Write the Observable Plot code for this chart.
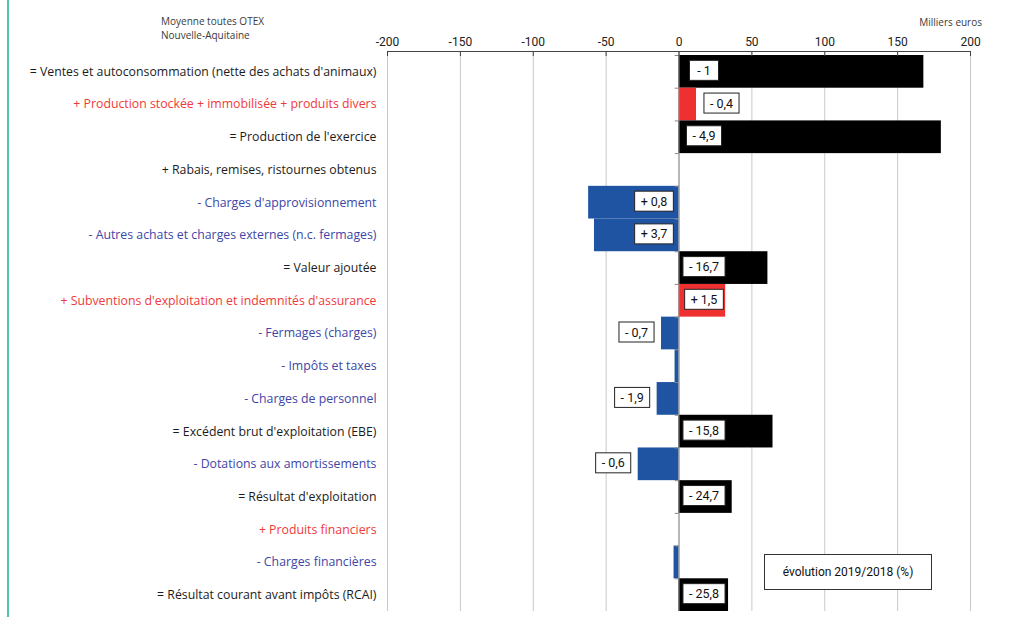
<!DOCTYPE html>
<html>
<head>
<meta charset="utf-8">
<script src="https://cdn.jsdelivr.net/npm/d3@7"></script>
<script src="https://cdn.jsdelivr.net/npm/@observablehq/plot@0.6"></script>
<style>
  html, body { margin: 0; padding: 0; background: #fff; }
  #wrap { position: relative; width: 1015px; height: 617px; overflow: hidden; font-family: "Open Sans", sans-serif; }
  #edge { position: absolute; left: 7px; top: 0; width: 2px; height: 617px; background: #4fc4aa; }
  #note { position: absolute; left: 161px; top: 14px; font-size: 10px; line-height: 14px; color: #3a3a3a; }
  #unit { position: absolute; right: 33px; top: 15px; font-size: 10px; color: #3a3a3a; }
  #legend { position: absolute; left: 764px; top: 554px; width: 166px; height: 34px; border: 1px solid #333;
            font-family: Roboto, sans-serif; font-size: 12px; line-height: 34px; text-align: center; color: #111; background: #fff; }
  #chart svg { display: block; }
</style>
</head>
<body>
<div id="wrap">
  <div id="edge"></div>
  <div id="chart"></div>
  <div id="note">Moyenne toutes OTEX<br>Nouvelle-Aquitaine</div>
  <div id="unit">Milliers euros</div>
  <div id="legend">évolution 2019/2018 (%)</div>
</div>
<script>
// Soldes intermédiaires de gestion, en milliers d'euros
const labels = [
  "= Ventes et autoconsommation (nette des achats d'animaux)",
  "+ Production stockée + immobilisée + produits divers",
  "= Production de l'exercice",
  "+ Rabais, remises, ristournes obtenus",
  "- Charges d'approvisionnement",
  "- Autres achats et charges externes (n.c. fermages)",
  "= Valeur ajoutée",
  "+ Subventions d'exploitation et indemnités d'assurance",
  "- Fermages (charges)",
  "- Impôts et taxes",
  "- Charges de personnel",
  "= Excédent brut d'exploitation (EBE)",
  "- Dotations aux amortissements",
  "= Résultat d'exploitation",
  "+ Produits financiers",
  "- Charges financières",
  "= Résultat courant avant impôts (RCAI)"
];
const kinds = [
  "solde", "produit", "solde", "autre", "charge", "charge", "solde", "produit", "charge",
  "charge", "charge", "solde", "charge", "solde", "produit", "charge", "solde"
];
const values = [168, 12, 180, 0, -62, -58, 61, 32, -12, -2.7, -15, 64.5, -28, 36.5, 0, -3.4, 34];
// évolution 2019/2018 (%)
const evolution = [-1, -0.4, -4.9, null, 0.8, 3.7, -16.7, 1.5, -0.7, null, -1.9, -15.8, -0.6, -24.7, null, null, -25.8];
const xTicks = [-200, -150, -100, -50, 0, 50, 100, 150, 200];

const barColor = { solde: "#000000", produit: "#ee3030", charge: "#1f54a3", autre: "#000000" };
const textColor = { solde: "#1c1c1c", produit: "#f03a3a", charge: "#4046a6", autre: "#1c1c1c" };

const rows = labels.map((label, i) => ({ label, kind: kinds[i], value: values[i], evol: evolution[i] }));
const fmt = v => (v > 0 ? "+ " : "- ") + String(Math.abs(v)).replace(".", ",");

const W = 1015, H = 617, mT = 51, mB = 6, mL = 387, mR = 45, yInset = 4;
const bw = (H - mT - mB - yInset) / labels.length;
const inside = d => Math.abs(d.value) >= 30;
const evolRows = rows.filter(d => d.evol != null);

const plot = Plot.plot({
  width: W,
  height: H,
  marginTop: mT,
  marginBottom: mB,
  marginLeft: mL,
  marginRight: mR,
  style: { fontFamily: "Roboto, sans-serif", fontSize: "12px", color: "#222", background: "transparent" },
  color: { type: "identity" },
  x: { domain: [-200, 200], ticks: xTicks, label: null },
  y: { domain: labels, padding: 0, round: false, insetTop: yInset, axis: null, label: null },
  marks: [
    Plot.gridX(xTicks, { stroke: "#c9c9c9", strokeOpacity: 1 }),
    Plot.barX(rows, { x: "value", y: "label", fill: d => barColor[d.kind] }),
    Plot.ruleX([0], { stroke: "#8a8a8a" }),
    // small category ticks on the zero line, at each band boundary
    Plot.ruleY(labels, { y: d => d, x1: -2.6, x2: 0, dy: -bw / 2, stroke: "#8a8a8a" }),
    // axis line along the top of the plot area
    Plot.ruleY([labels[0]], { y: d => d, dy: -(bw / 2 + yInset), stroke: "#444" }),
    Plot.tickX(xTicks, { x: d => d, stroke: "#444", insetBottom: H - mT - mB - 5 }),
    Plot.axisX(xTicks, { anchor: "top", tickSize: 0, tickPadding: 6, fontSize: 12, tickFormat: d => String(d) }),
    Plot.text(rows, {
      y: "label", text: "label", frameAnchor: "left", textAnchor: "end", dx: -11,
      fill: d => textColor[d.kind], fontFamily: "Open Sans, sans-serif", fontSize: 12.3
    }),
    Plot.text(evolRows, {
      x: d => inside(d) ? 0 : d.value,
      y: "label",
      text: d => fmt(d.evol),
      fill: "#111",
      fontSize: 12.5
    })
  ]
});
document.getElementById("chart").appendChild(plot);

// value boxes: shift each label beside its bar and frame it
const ns = "http://www.w3.org/2000/svg";
const group = Array.from(plot.querySelectorAll('g[aria-label="text"]'))
  .find(g => g.querySelector("text") && g.querySelector("text").textContent === fmt(evolRows[0].evol));
if (group) {
  group.querySelectorAll("text").forEach((t, i) => {
    const d = evolRows[i];
    const shift = (d.value >= 0 ? 1 : -1) * 25;
    const tr = t.getAttribute("transform");
    const shiftTr = `translate(${shift},-1)`;
    t.setAttribute("transform", tr ? `${shiftTr} ${tr}` : shiftTr);
    const b = t.getBBox();
    const w = Math.max(b.width + 12, 29);
    const r = document.createElementNS(ns, "rect");
    r.setAttribute("x", b.x + b.width / 2 - w / 2);
    r.setAttribute("y", b.y - 2.5);
    r.setAttribute("width", w);
    r.setAttribute("height", b.height + 5);
    r.setAttribute("fill", "#fff");
    r.setAttribute("stroke", "#222");
    r.setAttribute("stroke-width", 1);
    r.setAttribute("transform", t.getAttribute("transform"));
    t.parentNode.insertBefore(r, t);
  });
}
</script>
</body>
</html>
